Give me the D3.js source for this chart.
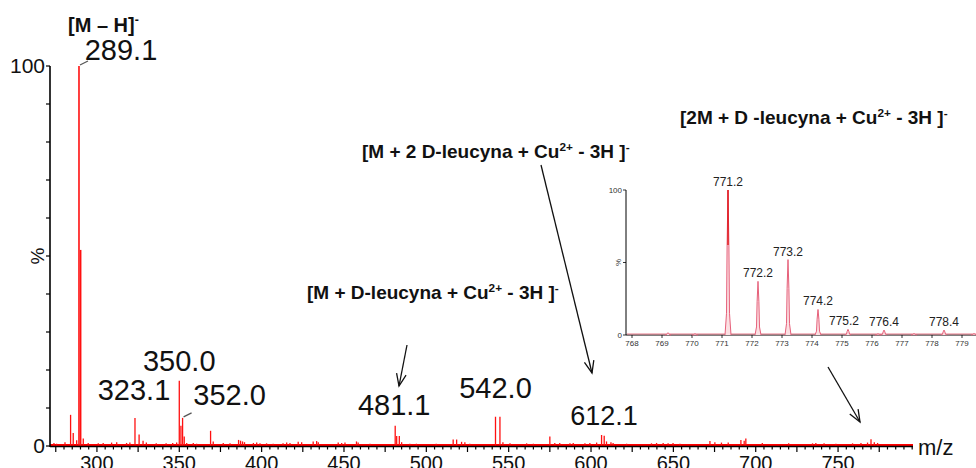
<!DOCTYPE html>
<html>
<head>
<meta charset="utf-8">
<script src="https://cdn.jsdelivr.net/npm/d3@7"></script>
<style>
  html, body { margin: 0; padding: 0; background: #fff; }
  svg { display: block; }
  .num { font-family: "Liberation Sans", Arial, sans-serif; }
  .ann { font-family: "Liberation Sans Narrow", "Liberation Sans", sans-serif; font-weight: bold; }
</style>
</head>
<body>
<svg id="chart" width="976" height="468"></svg>
<script>
// Main spectrum: m/z positions and relative intensities (%)
const mainMz = [
  273.9, 275.5, 280.6, 284.0, 285.6, 287.7, 289.1, 290.1, 291.7, 294.7,
  300.8, 303.8, 308.9, 312.0, 318.0, 320.0, 323.1, 325.6, 328.0, 330.0,
  336.0, 342.0, 346.0, 348.4, 350.0, 351.0, 352.0, 353.0, 354.5, 358.5,
  360.5, 369.0, 370.6, 376.7, 380.8, 386.0, 387.2, 388.4, 389.6, 395.0,
  397.0, 399.0, 403.0, 407.0, 413.0, 415.2, 417.2, 422.2, 424.3, 431.3,
  433.4, 434.4, 446.5, 448.6, 450.6, 457.6, 458.6, 465.8, 481.1, 482.0,
  483.6, 485.0, 490.0, 494.0, 506.0, 516.3, 518.4, 521.4, 523.4, 526.4,
  542.0, 544.7, 546.5, 550.8, 560.9, 565.0, 575.0, 578.0, 581.0, 587.2,
  589.2, 596.3, 599.3, 603.4, 606.4, 608.0, 609.4, 612.1, 613.4, 621.6,
  636.7, 639.8, 643.8, 646.8, 649.8, 654.0, 672.2, 675.2, 679.2, 683.3,
  691.0, 693.0, 694.0, 704.0, 720.0, 734.5, 736.5, 741.5, 748.7, 758.8,
  763.9, 767.9, 770.0, 772.0, 774.0
];
const mainIntensity = [
  0.8, 0.6, 1.0, 8.2, 3.4, 1.5, 100, 51.6, 2.0, 0.8,
  0.7, 0.8, 0.9, 1.0, 0.8, 0.9, 7.4, 3.0, 1.4, 0.9,
  0.7, 0.7, 0.8, 0.9, 17.2, 5.3, 7.4, 2.5, 0.8, 0.8,
  0.6, 4.0, 1.2, 0.8, 0.7, 1.6, 1.4, 1.2, 1.0, 0.8,
  0.9, 0.7, 0.7, 0.6, 0.7, 0.9, 0.8, 1.1, 1.0, 1.2,
  1.3, 1.0, 0.9, 0.8, 0.9, 1.2, 0.9, 0.6, 5.3, 2.6,
  2.6, 1.0, 0.6, 0.6, 0.6, 1.7, 1.7, 1.1, 1.0, 0.6,
  7.7, 7.7, 1.0, 0.7, 0.7, 0.6, 2.5, 0.8, 0.8, 0.7,
  0.8, 0.7, 0.8, 0.9, 2.9, 2.7, 1.2, 1.0, 0.8, 0.6,
  0.7, 0.8, 0.8, 0.7, 0.8, 0.6, 1.3, 1.0, 0.9, 0.9,
  1.6, 1.4, 2.0, 0.8, 0.7, 0.7, 0.8, 0.7, 0.6, 0.7,
  0.8, 0.9, 1.8, 1.0, 0.8
];
// Labelled peaks (m/z)
const mainLabelMz = [289.1, 323.1, 350.0, 352.0, 481.1, 542.0, 612.1];
const mainLabelText = ["289.1", "323.1", "350.0", "352.0", "481.1", "542.0", "612.1"];

const xTickLabels = [300, 350, 400, 450, 500, 550, 600, 650, 700, 750];
const yTickLabels = [0, 100];

// Inset: isotope pattern of the dimer complex
const insetMz = [769.2, 770.1, 771.2, 772.2, 773.2, 774.2, 775.2, 776.2, 776.4, 777.4, 778.4, 779.4];
const insetIntensity = [1.6, 0.8, 100, 37, 52, 17.6, 3.9, 0.8, 3.4, 1.0, 3.4, 1.0];
const insetLabelMz = [771.2, 772.2, 773.2, 774.2, 775.2, 776.4, 778.4];
const insetTickLabels = [768, 769, 770, 771, 772, 773, 774, 775, 776, 777, 778, 779];

const svg = d3.select("#chart");

// ---------- main spectrum ----------
const x = d3.scaleLinear().domain([271.5, 795.5]).range([50, 913]);
const y = d3.scaleLinear().domain([0, 100]).range([446, 66]);

const peaks = mainMz.map((m, i) => ({ mz: m, v: mainIntensity[i] }));

// baseline trace
svg.append("line")
  .attr("x1", x(271.5)).attr("x2", x(795.5))
  .attr("y1", y(0) - 1).attr("y2", y(0) - 1)
  .attr("stroke", "#ff0000").attr("stroke-width", 2);

svg.append("g").selectAll("line").data(peaks).join("line")
  .attr("x1", d => x(d.mz)).attr("x2", d => x(d.mz))
  .attr("y1", y(0)).attr("y2", d => y(d.v))
  .attr("stroke", "#ff1010")
  .attr("stroke-width", d => d.v > 40 ? 1.6 : 1.3);

// x axis: minor ticks every 5, longer every 25
const xAxis = svg.append("g").attr("transform", `translate(0,${y(0)})`);
xAxis.append("line").attr("x1", 50).attr("x2", 913).attr("y1", 0.5).attr("y2", 0.5)
  .attr("stroke", "#000").attr("stroke-width", 1.6);
xAxis.selectAll("line.t").data(d3.range(275, 796, 5)).join("line").attr("class", "t")
  .attr("x1", d => x(d)).attr("x2", d => x(d))
  .attr("y1", 0).attr("y2", d => d % 25 === 0 ? 6 : 3.5)
  .attr("stroke", "#000").attr("stroke-width", 1.2);
xAxis.selectAll("text").data(xTickLabels).join("text").attr("class", "num")
  .attr("x", d => x(d)).attr("y", 24)
  .attr("text-anchor", "middle").attr("font-size", 20).attr("fill", "#111")
  .text(d => d);
svg.append("text").attr("class", "num")
  .attr("x", 918).attr("y", 455).attr("font-size", 22).attr("fill", "#111")
  .text("m/z");

// y axis
const yAxis = svg.append("g").attr("transform", "translate(50,0)");
yAxis.append("line").attr("x1", 0).attr("x2", 0).attr("y1", y(100)).attr("y2", y(0) + 1)
  .attr("stroke", "#000").attr("stroke-width", 1.6);
yAxis.selectAll("line.t").data(d3.range(0, 101, 10)).join("line").attr("class", "t")
  .attr("x1", -4).attr("x2", 0).attr("y1", d => y(d)).attr("y2", d => y(d))
  .attr("stroke", "#000").attr("stroke-width", 1.2);
yAxis.selectAll("text").data(yTickLabels).join("text").attr("class", "num")
  .attr("x", -5).attr("y", d => y(d) + 7)
  .attr("text-anchor", "end").attr("font-size", 21).attr("fill", "#111")
  .text(d => d);
svg.append("text").attr("class", "num")
  .attr("transform", `translate(44,${y(50)}) rotate(-90)`)
  .attr("text-anchor", "middle").attr("font-size", 19).attr("fill", "#111")
  .text("%");

// peak labels with offsets (dx, dy) and optional leader lines
const labelOffsets = {
  "289.1": { dx: 42, dy: -6, lead: true },
  "323.1": { dx: -1, dy: -18 },
  "350.0": { dx: 0, dy: -10 },
  "352.0": { dx: 47, dy: -13, lead: true },
  "481.1": { dx: -1, dy: -11 },
  "542.0": { dx: 0, dy: -19 },
  "612.1": { dx: -7, dy: -17 }
};
mainLabelMz.forEach((m, i) => {
  const v = mainIntensity[mainMz.indexOf(m)];
  const o = labelOffsets[mainLabelText[i]];
  svg.append("text").attr("class", "num")
    .attr("x", x(m) + o.dx).attr("y", y(v) + o.dy)
    .attr("text-anchor", "middle")
    .attr("font-size", mainLabelText[i] === "612.1" ? 27 : 29)
    .attr("fill", "#111")
    .text(mainLabelText[i]);
  if (o.lead) {
    svg.append("line")
      .attr("x1", x(m) + 1).attr("y1", y(v) - 1)
      .attr("x2", x(m) + 9).attr("y2", y(v) - 5)
      .attr("stroke", "#555").attr("stroke-width", 1.2);
  }
});

// ---------- inset ----------
const xi = d3.scaleLinear().domain([767.8, 779.5]).range([626, 977]);
const yi = d3.scaleLinear().domain([0, 100]).range([335, 190]);

svg.append("line").attr("x1", 626).attr("x2", 976).attr("y1", yi(0)).attr("y2", yi(0))
  .attr("stroke", "#000").attr("stroke-width", 1);
svg.append("line").attr("x1", 627).attr("x2", 976).attr("y1", yi(0) - 1).attr("y2", yi(0) - 1)
  .attr("stroke", "#e87a8a").attr("stroke-width", 1);
svg.append("line").attr("x1", 626).attr("x2", 626).attr("y1", yi(100)).attr("y2", yi(0))
  .attr("stroke", "#000").attr("stroke-width", 1);
svg.append("g").selectAll("line").data([0, 50, 100]).join("line")
  .attr("x1", 623).attr("x2", 626).attr("y1", d => yi(d)).attr("y2", d => yi(d))
  .attr("stroke", "#000").attr("stroke-width", 0.8);
svg.append("g").selectAll("text").data([0, 100]).join("text").attr("class", "num")
  .attr("x", 622).attr("y", d => yi(d) + 3).attr("text-anchor", "end")
  .attr("font-size", 8).attr("fill", "#333").text(d => d);
svg.append("text").attr("class", "num")
  .attr("transform", `translate(621,${yi(50)}) rotate(-90)`)
  .attr("text-anchor", "middle").attr("font-size", 8).attr("fill", "#333").text("%");
svg.append("g").selectAll("line").data(insetTickLabels).join("line")
  .attr("x1", d => xi(d)).attr("x2", d => xi(d)).attr("y1", yi(0)).attr("y2", yi(0) + 3)
  .attr("stroke", "#000").attr("stroke-width", 0.8);
svg.append("g").selectAll("text").data(insetTickLabels).join("text").attr("class", "num")
  .attr("x", d => xi(d)).attr("y", yi(0) + 11).attr("text-anchor", "middle")
  .attr("font-size", 8).attr("fill", "#333").text(d => d);

// profile-style isotope peaks
const insetPeaks = insetMz.map((m, i) => ({ mz: m, v: insetIntensity[i] }));
svg.append("g").selectAll("path").data(insetPeaks).join("path")
  .attr("d", d => `M${xi(d.mz - 0.1)},${yi(0)} L${xi(d.mz - 0.05)},${yi(d.v * 0.15)} L${xi(d.mz - 0.03)},${yi(d.v * 0.62)} L${xi(d.mz)},${yi(d.v)} L${xi(d.mz + 0.03)},${yi(d.v * 0.62)} L${xi(d.mz + 0.05)},${yi(d.v * 0.15)} L${xi(d.mz + 0.1)},${yi(0)}`)
  .attr("fill", "#fbe0e3").attr("stroke", "#e6607a").attr("stroke-width", 1);
svg.append("line")
  .attr("x1", xi(771.2)).attr("x2", xi(771.2)).attr("y1", yi(100)).attr("y2", yi(62))
  .attr("stroke", "#e00000").attr("stroke-width", 1.2);

const insetLabelDx = { 771.2: 0, 772.2: 0, 773.2: 0, 774.2: 0, 775.2: -4, 776.4: 0, 778.4: 0 };
insetLabelMz.forEach(m => {
  const v = insetIntensity[insetMz.indexOf(m)];
  svg.append("text").attr("class", "num")
    .attr("x", xi(m) + insetLabelDx[m]).attr("y", yi(v) - 4)
    .attr("text-anchor", "middle").attr("font-size", 12).attr("fill", "#222")
    .text(m.toFixed(1));
});

// ---------- ion annotations ----------
function ion(xp, yp, parts, size) {
  const t = svg.append("text").attr("class", "ann")
    .attr("x", xp).attr("y", yp).attr("font-size", size).attr("fill", "#111");
  parts.forEach(p => {
    const s = t.append("tspan").text(p[0]);
    if (p[1]) s.attr("font-size", size * 0.62).attr("dy", -size * 0.38);
    else if (p[2]) s.attr("dy", size * 0.38);
  });
  return t;
}
ion(68, 32, [["[M – H]"], ["-", true]], 20);
ion(307, 299, [["[M + D-leucyna + Cu"], ["2+", true], [" - 3H ]", false, true], ["-", true]], 19);
ion(362, 158, [["[M + 2 D-leucyna + Cu"], ["2+", true], [" - 3H ]", false, true], ["-", true]], 19);
ion(680, 124, [["[2M + D -leucyna + Cu"], ["2+", true], [" - 3H ]", false, true], ["-", true]], 19);

// arrows with open heads
function arrow(x1, y1, x2, y2) {
  svg.append("line").attr("x1", x1).attr("y1", y1).attr("x2", x2).attr("y2", y2)
    .attr("stroke", "#111").attr("stroke-width", 1.3);
  const a = Math.atan2(y2 - y1, x2 - x1), L = 13, w = 0.38;
  svg.append("path")
    .attr("d", `M${x2 - L * Math.cos(a - w)},${y2 - L * Math.sin(a - w)} L${x2},${y2} L${x2 - L * Math.cos(a + w)},${y2 - L * Math.sin(a + w)}`)
    .attr("fill", "none").attr("stroke", "#111").attr("stroke-width", 1.3);
}
arrow(407, 345, 399, 386);
arrow(541, 165, 592, 373);
arrow(828, 367, 860, 422);
</script>
</body>
</html>
